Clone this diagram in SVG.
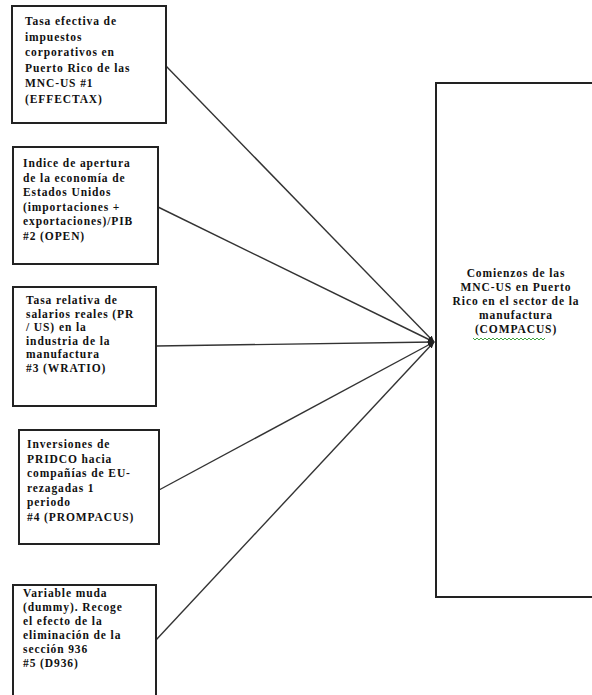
<svg xmlns="http://www.w3.org/2000/svg" width="592" height="695" viewBox="0 0 592 695">
<defs>
<style>
.box{fill:#fff;stroke:#222;stroke-width:2}
.conn{stroke:#333;stroke-width:1.4;fill:none}
text{font-family:"Liberation Serif","Times New Roman",serif;font-size:11.5px;font-weight:bold;fill:#111;letter-spacing:0.9px}
.c{text-anchor:middle}
</style>
<marker id="arr" viewBox="0 0 10 10" refX="9" refY="5" markerWidth="5" markerHeight="5" orient="auto">
<path d="M0,1 L10,5 L0,9 z" fill="#222"/>
</marker>
</defs>
<rect x="0" y="0" width="592" height="695" fill="#fff"/>
<g id="connectors">
<line class="conn" x1="166" y1="66" x2="434" y2="342" marker-end="url(#arr)"/>
<line class="conn" x1="158" y1="207" x2="434" y2="342" marker-end="url(#arr)"/>
<line class="conn" x1="156" y1="346" x2="434" y2="342" marker-end="url(#arr)"/>
<line class="conn" x1="159" y1="490" x2="434" y2="342" marker-end="url(#arr)"/>
<line class="conn" x1="156" y1="640" x2="434" y2="342" marker-end="url(#arr)"/>
</g>
<g id="n1">
<rect class="box" x="12" y="6" width="154" height="117"/>
<text x="25" y="25">Tasa efectiva de</text>
<text x="25" y="40.5">impuestos</text>
<text x="25" y="56">corporativos en</text>
<text x="25" y="71.5">Puerto Rico de las</text>
<text x="25" y="87">MNC-US #1</text>
<text x="25" y="102.5">(EFFECTAX)</text>
</g>
<g id="n2">
<rect class="box" x="13" y="147" width="145" height="117"/>
<text x="23" y="167">Indice de apertura</text>
<text x="23" y="181.5">de la economía de</text>
<text x="23" y="196">Estados Unidos</text>
<text x="23" y="210.5">(importaciones +</text>
<text x="23" y="225">exportaciones)/PIB</text>
<text x="23" y="239.5">#2 (OPEN)</text>
</g>
<g id="n3">
<rect class="box" x="13" y="287" width="143" height="119"/>
<text x="26" y="304">Tasa relativa de</text>
<text x="26" y="317.5">salarios reales (PR</text>
<text x="26" y="331">/ US) en la</text>
<text x="26" y="344.5">industria de la</text>
<text x="26" y="358">manufactura</text>
<text x="26" y="371.5">#3 (WRATIO)</text>
</g>
<g id="n4">
<rect class="box" x="19" y="430" width="140" height="114"/>
<text x="27" y="448">Inversiones de</text>
<text x="27" y="462.5">PRIDCO hacia</text>
<text x="27" y="477">compañías de EU-</text>
<text x="27" y="491.5">rezagadas 1</text>
<text x="27" y="506">periodo</text>
<text x="27" y="520.5">#4 (PROMPACUS)</text>
</g>
<g id="n5">
<rect class="box" x="13" y="585" width="143" height="120"/>
<text x="23" y="597">Variable muda</text>
<text x="23" y="611">(dummy). Recoge</text>
<text x="23" y="625">el efecto de la</text>
<text x="23" y="639">eliminación de la</text>
<text x="23" y="653">sección 936</text>
<text x="23" y="667"> #5 (D936)</text>
</g>
<g id="n6">
<rect class="box" x="436" y="83" width="170" height="514"/>
<text class="c" x="516" y="277">Comienzos de las</text>
<text class="c" x="516" y="291">MNC-US en Puerto</text>
<text class="c" x="516" y="305">Rico en el sector de la</text>
<text class="c" x="516" y="319">manufactura</text>
<text class="c" x="516" y="333">(COMPACUS)</text>
<path d="M473,338 l2,2 l2,-2 l2,2 l2,-2 l2,2 l2,-2 l2,2 l2,-2 l2,2 l2,-2 l2,2 l2,-2 l2,2 l2,-2 l2,2 l2,-2 l2,2 l2,-2 l2,2 l2,-2 l2,2 l2,-2 l2,2 l2,-2 l2,2 l2,-2 l2,2 l2,-2 l2,2 l2,-2 l2,2 l2,-2 l2,2 l2,-2 l2,2 l2,-2" fill="none" stroke="#2a9a2a" stroke-width="0.9"/>
</g>
</svg>
